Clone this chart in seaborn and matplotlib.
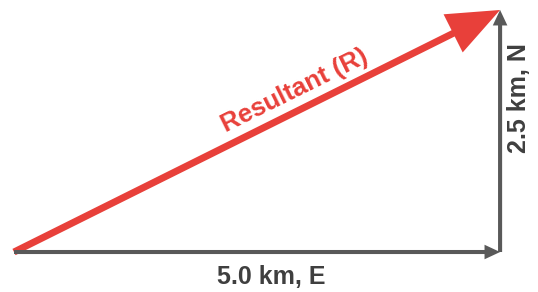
import matplotlib
matplotlib.use("Agg")
import seaborn as sns
import matplotlib.pyplot as plt

# Vector components (km)
east_km = [5.0, 0.0]
north_km = [0.0, 2.5]
labels = ["5.0 km, E", "2.5 km, N", "Resultant (R)"]

sns.set_theme(style="white")
plt.rcParams["font.family"] = ["Liberation Sans", "DejaVu Sans"]

RED = "#E8403A"
GRAY = "#595959"
TEXT = "#3f3f3f"

fig = plt.figure(figsize=(5.38, 2.92), dpi=100)
ax = fig.add_axes([0, 0, 1, 1])
ax.set_xlim(-0.144, 5.39)
ax.set_ylim(-0.413, 2.603)
ax.axis("off")

ex, ny = east_km[0], north_km[1]

# resultant (drawn first, under the components)
ax.arrow(0, 0, ex, ny, width=0.072, head_width=0.44, head_length=0.54,
         length_includes_head=True, color=RED, lw=0, zorder=2)

# east component
ax.arrow(0, 0, ex, 0, width=0.042, head_width=0.15, head_length=0.16,
         length_includes_head=True, color=GRAY, lw=0, zorder=3)
# north component
ax.arrow(ex, 0, 0, ny, width=0.042, head_width=0.15, head_length=0.16,
         length_includes_head=True, color=GRAY, lw=0, zorder=3)

ax.text(2.65, -0.26, labels[0], ha="center", va="center",
        fontsize=18, fontweight="bold", color=TEXT)
ax.text(5.195, 1.59, labels[1], ha="center", va="center",
        rotation=90, fontsize=18, fontweight="bold", color=TEXT)
ax.text(2.89, 1.67, labels[2], ha="center", va="center",
        rotation=26.3, rotation_mode="anchor", fontsize=18.5,
        fontweight="bold", color=RED)

fig.savefig("out.png", dpi=100)
